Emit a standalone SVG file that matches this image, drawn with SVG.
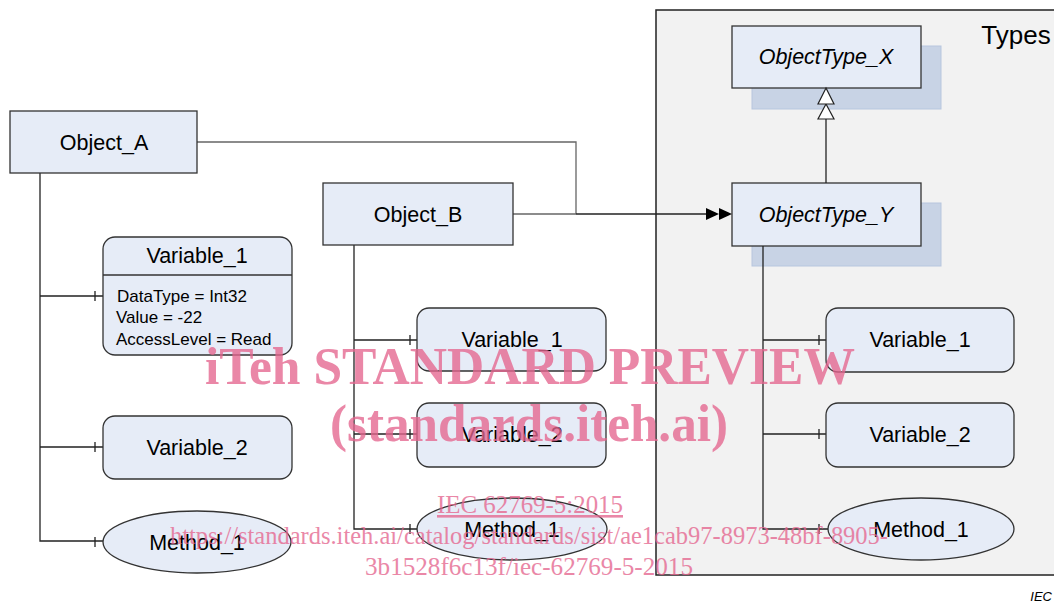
<svg xmlns="http://www.w3.org/2000/svg" width="1054" height="605" viewBox="0 0 1054 605">
<style>
.node{fill:#e6ecf7;stroke:#333;stroke-width:1.3}
.shadow{fill:#c8d3e5;stroke:#b7c6de;stroke-width:1}
.t{font-family:"Liberation Sans",Arial,sans-serif;font-size:21.5px;fill:#000;text-anchor:middle}
.ti{font-family:"Liberation Sans",Arial,sans-serif;font-size:21.5px;font-style:italic;fill:#000;text-anchor:middle}
.a{font-family:"Liberation Sans",Arial,sans-serif;font-size:17px;fill:#000}
.c{fill:none;stroke:#222;stroke-width:1.3}
.g{fill:none;stroke:#666;stroke-width:1.3}
.wm{font-family:"Liberation Serif","Times New Roman",serif;fill:#e5668f;opacity:0.78;text-anchor:middle}
</style>
<g id="types-container">
<rect x="656" y="10" width="410" height="565" fill="#f2f2f2" stroke="#222" stroke-width="1.5"/>
<text x="1016" y="44" class="t" style="font-size:26px">Types</text>
</g>
<g id="objecttype-x">
<rect class="shadow" x="752" y="46" width="189" height="63"/>
<rect class="node" x="732" y="26" width="189" height="62"/>
<text class="ti" x="826" y="64">ObjectType_X</text>
</g>
<g id="objecttype-y">
<rect class="shadow" x="752" y="203" width="189" height="63"/>
<rect class="node" x="732" y="183" width="189" height="63"/>
<text class="ti" x="826" y="222">ObjectType_Y</text>
</g>
<g id="connectors">
<path class="c" d="M40 173 V541 H103"/>
<path class="c" d="M40 296 H103 M40 447 H103"/>
<path class="g" d="M197 142 H576 V214"/>
<path class="g" d="M513 214 H576"/>
<path class="c" d="M576 214 H708"/>
<polygon points="706,208 719,214 706,220" fill="#000"/>
<polygon points="719,208 732,214 719,220" fill="#000"/>
<path class="c" d="M354 245 V529 H418 M354 340 H418 M354 434 H418"/>
<path class="c" d="M763 246 V529 H828 M763 340 H826 M763 434 H826"/>
<path class="c" d="M826 183 V119"/>
<polygon points="826,104 834,119 818,119" fill="#fff" stroke="#222" stroke-width="1.2"/>
<polygon points="826,88 834,104 818,104" fill="#fff" stroke="#222" stroke-width="1.2"/>
<path class="c" d="M95 291 V301 M95 442 V452 M95 537 V547 M410 335 V345 M410 429 V439 M410 524 V534 M819 335 V345 M819 429 V439 M819 524 V534"/>
</g>
<g id="object-a">
<rect class="node" x="10" y="111" width="187" height="62"/>
<text class="t" x="104" y="150">Object_A</text>
</g>
<g id="a-variable-1">
<rect class="node" x="103" y="237" width="189" height="118" rx="12"/>
<line x1="103" y1="275" x2="292" y2="275" stroke="#333" stroke-width="1.3"/>
<text class="t" x="197" y="263">Variable_1</text>
<text class="a" x="117" y="302">DataType = Int32</text>
<text class="a" x="116" y="323">Value = -22</text>
<text class="a" x="116" y="345">AccessLevel = Read</text>
</g>
<g id="a-variable-2">
<rect class="node" x="103" y="416" width="189" height="63" rx="12"/>
<text class="t" x="197" y="455">Variable_2</text>
</g>
<g id="a-method-1">
<ellipse class="node" cx="197" cy="542" rx="94" ry="31"/>
<text class="t" x="197" y="550">Method_1</text>
</g>
<g id="object-b">
<rect class="node" x="323" y="183" width="190" height="62"/>
<text class="t" x="418" y="222">Object_B</text>
</g>
<g id="b-variable-1">
<rect class="node" x="417" y="308" width="189" height="63" rx="12"/>
<text class="t" x="512" y="347">Variable_1</text>
</g>
<g id="b-variable-2">
<rect class="node" x="417" y="403" width="189" height="64" rx="12"/>
<text class="t" x="512" y="442">Variable_2</text>
</g>
<g id="b-method-1">
<ellipse class="node" cx="512" cy="529" rx="95" ry="31"/>
<text class="t" x="512" y="537">Method_1</text>
</g>
<g id="y-variable-1">
<rect class="node" x="826" y="308" width="188" height="64" rx="12"/>
<text class="t" x="920" y="347">Variable_1</text>
</g>
<g id="y-variable-2">
<rect class="node" x="826" y="403" width="188" height="64" rx="12"/>
<text class="t" x="920" y="442">Variable_2</text>
</g>
<g id="y-method-1">
<ellipse class="node" cx="921" cy="529" rx="93" ry="31"/>
<text class="t" x="921" y="537">Method_1</text>
</g>
<text x="1052" y="601" style="font-family:'Liberation Sans',Arial,sans-serif;font-size:13px;font-style:italic;text-anchor:end">IEC</text>
<g id="watermark">
<text class="wm" x="530" y="384" font-size="52" font-weight="bold" textLength="650" lengthAdjust="spacingAndGlyphs">iTeh STANDARD PREVIEW</text>
<text class="wm" x="529" y="441" font-size="52" font-weight="bold" textLength="398" lengthAdjust="spacingAndGlyphs">(standards.iteh.ai)</text>
<text class="wm" x="530" y="513" font-size="26" text-decoration="underline" textLength="186" lengthAdjust="spacingAndGlyphs">IEC 62769-5:2015</text>
<text class="wm" x="529" y="544" font-size="26" textLength="718" lengthAdjust="spacingAndGlyphs">https://standards.iteh.ai/catalog/standards/sist/ae1cab97-8973-48bf-8905-</text>
<text class="wm" x="529" y="575" font-size="26" textLength="328" lengthAdjust="spacingAndGlyphs">3b1528f6c13f/iec-62769-5-2015</text>
</g>
</svg>
